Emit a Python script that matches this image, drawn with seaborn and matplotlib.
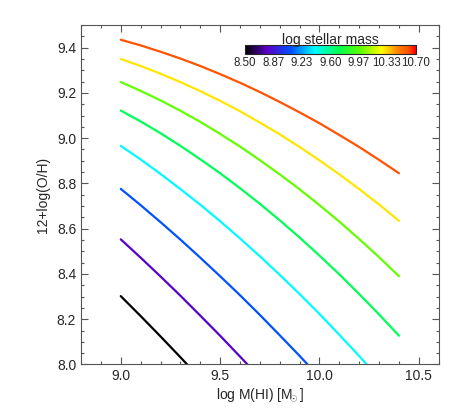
import numpy as np
import pandas as pd
import matplotlib
matplotlib.use('Agg')
import matplotlib.pyplot as plt
import matplotlib.colors as mcolors
from matplotlib.ticker import MultipleLocator, FormatStrFormatter
import seaborn as sns

# log M(HI) grid where the curves were read
logmhi = [9.0, 9.1, 9.2, 9.3, 9.4, 9.5, 9.6, 9.7,
          9.8, 9.9, 10.0, 10.1, 10.2, 10.3, 10.4]

# log stellar mass of each curve
mstar = [8.5, 8.8, 9.1, 9.4, 9.7, 10.0, 10.3, 10.6]

# 12+log(O/H) for each stellar mass (nan = off the plot)
nan = np.nan
oh_85 = [8.302, 8.214, 8.124, 8.032, 7.938, nan, nan, nan,
         nan, nan, nan, nan, nan, nan, nan]
oh_88 = [8.553, 8.472, 8.389, 8.304, 8.216, 8.127, 8.035, 7.942,
         nan, nan, nan, nan, nan, nan, nan]
oh_91 = [8.776, 8.704, 8.629, 8.552, 8.472, 8.390, 8.306, 8.219,
         8.129, 8.038, 7.943, nan, nan, nan, nan]
oh_94 = [8.966, 8.906, 8.842, 8.775, 8.706, 8.633, 8.557, 8.478,
         8.396, 8.311, 8.223, 8.131, 8.037, 7.939, nan]
oh_97 = [9.122, 9.074, 9.022, 8.966, 8.907, 8.845, 8.779, 8.710,
         8.637, 8.561, 8.481, 8.398, 8.311, 8.221, 8.127]
oh_100 = [9.248, 9.209, 9.167, 9.121, 9.072, 9.019, 8.963, 8.903,
          8.840, 8.774, 8.704, 8.631, 8.554, 8.474, 8.390]
oh_103 = [9.350, 9.319, 9.285, 9.248, 9.208, 9.165, 9.119, 9.069,
          9.017, 8.961, 8.902, 8.840, 8.775, 8.707, 8.635]
oh_106 = [9.435, 9.410, 9.382, 9.352, 9.319, 9.283, 9.245, 9.204,
          9.160, 9.114, 9.066, 9.014, 8.961, 8.904, 8.845]
curves = [oh_85, oh_88, oh_91, oh_94, oh_97, oh_100, oh_103, oh_106]

cbar_ticks = [8.50, 8.87, 9.23, 9.60, 9.97, 10.33, 10.70]

# long table for seaborn
rows = []
for m, oh in zip(mstar, curves):
    for x, y in zip(logmhi, oh):
        rows.append({'mhi': x, 'oh': y, 'mstar': m})
df = pd.DataFrame(rows)

# IDL-like rainbow
cmap = mcolors.LinearSegmentedColormap.from_list('idl_rainbow', [
    (0.00, '#000000'), (0.13, '#5a00c8'), (0.27, '#0050ff'),
    (0.41, '#00ffff'), (0.55, '#00ff50'), (0.68, '#60ff00'),
    (0.80, '#ffff00'), (0.90, '#ff8000'), (0.96, '#ff5000'),
    (1.00, '#ff0000')])
norm = mcolors.Normalize(vmin=8.5, vmax=10.7)
palette = {m: cmap(norm(m)) for m in mstar}

sns.set_style('ticks')
plt.rcParams['font.family'] = ['Liberation Sans', 'DejaVu Sans']
plt.rcParams['mathtext.fontset'] = 'custom'
plt.rcParams['mathtext.rm'] = 'Liberation Sans'

fig = plt.figure(figsize=(4.63, 4.17), dpi=100)
ax = fig.add_axes([0.175, 0.126, 0.7725, 0.814])

sns.lineplot(data=df, x='mhi', y='oh', hue='mstar', palette=palette,
             linewidth=1.6, legend=False, ax=ax, sort=False)

ax.set_xlim(8.8, 10.6)
ax.set_ylim(8.0, 9.5)
ax.xaxis.set_major_locator(MultipleLocator(0.5))
ax.xaxis.set_minor_locator(MultipleLocator(0.1))
ax.yaxis.set_major_locator(MultipleLocator(0.2))
ax.yaxis.set_minor_locator(MultipleLocator(0.05))
ax.xaxis.set_major_formatter(FormatStrFormatter('%.1f'))
ax.yaxis.set_major_formatter(FormatStrFormatter('%.1f'))
ax.tick_params(which='both', direction='in', top=True, right=True,
               color='#555555', labelsize=10, width=0.8)
ax.tick_params(which='major', length=5)
ax.tick_params(which='minor', length=2.5)
for s in ax.spines.values():
    s.set_color('#555555')
    s.set_linewidth(0.8)
ax.set_xlabel(r'log M(HI) [$\mathrm{M}\!\!_\odot$]', fontsize=10, labelpad=2)
ax.set_ylabel('12+log(O/H)', fontsize=10, labelpad=5)

# colour bar inside the plot
cax = fig.add_axes([0.529, 0.8705, 0.369, 0.0216])
sm = matplotlib.cm.ScalarMappable(norm=norm, cmap=cmap)
cb = fig.colorbar(sm, cax=cax, orientation='horizontal', ticks=cbar_ticks)
cb.ax.set_xticklabels(['%.2f' % t for t in cbar_ticks])
cb.ax.tick_params(labelsize=8.3, direction='in', length=3, width=0.6,
                  top=True, pad=2, color='#333333')
cb.outline.set_linewidth(0.8)
cax.set_title('log stellar mass', fontsize=10, pad=1)

fig.savefig('out.png', dpi=100)
